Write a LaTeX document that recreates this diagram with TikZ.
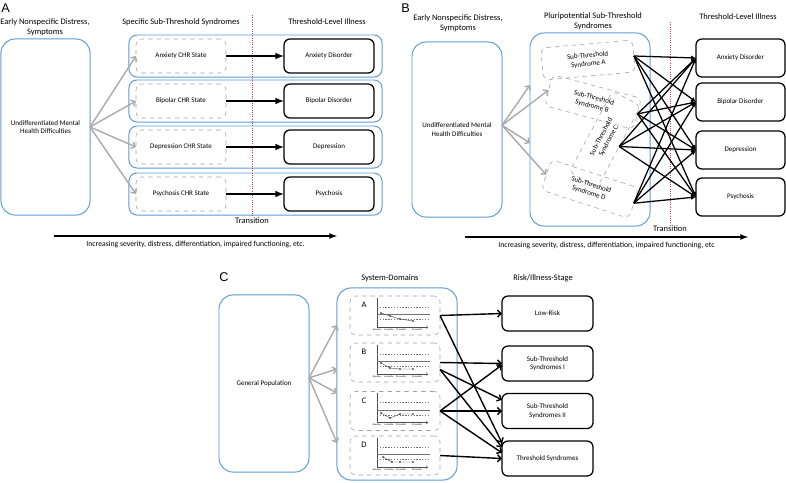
\documentclass[tikz,border=0pt]{standalone}
\usepackage{fontspec}
\setmainfont{Carlito}
\newfontfamily\panelfont{Liberation Sans}
\usetikzlibrary{arrows.meta,positioning}
\definecolor{panelblue}{RGB}{91,155,213}
\definecolor{arrowgray}{RGB}{170,170,170}
\definecolor{dashgray}{RGB}{160,160,160}
\definecolor{transred}{RGB}{205,70,70}
\newcommand{\nodefont}{\fontsize{5}{6}\selectfont}
\newcommand{\headfont}{\fontsize{6}{6.9}\selectfont}

\begin{document}
\begin{tikzpicture}[x=0.025cm,y=-0.025cm,every node/.style={outer sep=0pt,inner sep=1pt},
 panel/.style={font=\panelfont\fontsize{9}{10}\selectfont,anchor=west},
 head/.style={font=\headfont,align=center},
 blueframe/.style={draw=panelblue,line width=0.7pt,rounded corners=0.35cm,align=center,font=\nodefont},
 rowframe/.style={draw=panelblue,line width=0.7pt,rounded corners=0.2cm,minimum width=6.325cm,minimum height=1.05cm},
 chrbox/.style={draw=dashgray,dashed,rounded corners=0.15cm,minimum width=2.25cm,minimum height=0.85cm,font=\nodefont,align=center},
 illbox/.style={draw,line width=0.9pt,rounded corners=0.15cm,minimum width=2.25cm,minimum height=0.85cm,font=\nodefont,align=center},
 grayarrow/.style={draw=arrowgray,line width=1pt,-{Straight Barb[length=2.5pt,width=5pt]}},
 blackarrow/.style={line width=1.1pt,-latex},
 arrowB/.style={line width=0.9pt,-{Latex[length=3.5pt,width=3.5pt]}},
 arrowC/.style={line width=1pt,-{Straight Barb[length=2.5pt,width=5pt]}},
 transline/.style={transred,densely dotted,line width=0.6pt},
 chartline/.style={draw=black!70,line width=0.3pt},
 chartguide/.style={draw=black!55,line width=0.3pt},
 dataline/.style={draw=black!70,line width=0.3pt},
 ticklabel/.style={font=\fontsize{1.7}{2}\selectfont,inner sep=0pt},
 domletter/.style={font=\fontsize{6}{7}\selectfont},
 chartframe/.pic={
  \draw[chartline] (-18,-18) -- (-18,11.5);
  \draw[chartline,-{Straight Barb[length=1pt,width=2pt]}] (-18,11.5) -- (33,11.5);
  \draw[chartguide,dash pattern=on 1pt off 1pt] (-18,-8.5) -- (35,-8.5);
  \draw[chartguide] (-18,-1) -- (35,-1);
  \draw[chartguide,dash pattern=on 1pt off 1pt] (-18,4) -- (35,4);
  \node[ticklabel] (-t1) at (-18,14) {Baseline};
  \node[ticklabel] (-t2) at (-6,14) {6 months};
  \node[ticklabel] (-t3) at (6,14) {12 months};
  \node[ticklabel] (-t4) at (22,14) {24 months};
 }]

\useasboundingbox (0,0) rectangle (786,482);

%% panel A
\node[panel] (labA) at (0,8) {A};
\node[head] (earlyA) at (45,27) {Early Nonspecific Distress,\\Symptoms};
\node[head] (specA) at (181,22) {Specific Sub-Threshold Syndromes};
\node[head] (illhA) at (327,22) {Threshold-Level Illness};

\node[blueframe,minimum width=2.225cm,minimum height=4.4cm] (undA) at (45.5,127) {Undifferentiated Mental\\Health Difficulties};

\foreach \y/\chr/\ill [count=\i] in {56/Anxiety CHR State/Anxiety Disorder,101/Bipolar CHR State/Bipolar Disorder,147/Depression CHR State/Depression,194/Psychosis CHR State/Psychosis}{
 \node[rowframe] (rowA\i) at (255.5,\y) {};
 \node[chrbox] (chrA\i) at (181,\y) {\chr};
 \node[illbox] (illA\i) at (329,\y) {\ill};
}

\coordinate (topA) at (252,15);
\node[font=\headfont] (transA) at (252,221) {Transition};
\draw[transline] (topA) -- (transA.north);

\foreach \i in {1,...,4}{
 \draw[blackarrow] (chrA\i) -- (illA\i);
 \draw[grayarrow] (undA.east) -- (chrA\i.west);
}

\coordinate (sevA0) at (54,236);
\coordinate (sevA1) at (337,236);
\draw[blackarrow,line width=0.9pt] (sevA0) -- (sevA1) node[midway,below=2.5pt,font=\fontsize{5.5}{6}\selectfont] (sevtextA) {Increasing severity, distress, differentiation, impaired functioning, etc.};

%% panel B
\node[panel] (labB) at (400,8) {B};
\node[head] (earlyB) at (458,23) {Early Nonspecific Distress,\\Symptoms};
\node[head] (pluriB) at (593,21) {Pluripotential Sub-Threshold\\Syndromes};
\node[head] (illhB) at (738,17) {Threshold-Level Illness};

\node[blueframe,minimum width=2.25cm,minimum height=4.375cm] (undB) at (457,129.5) {Undifferentiated Mental\\Health Difficulties};
\node[blueframe,minimum width=3cm,minimum height=4.825cm] (pluri) at (590,129.5) {};

\node[chrbox,minimum width=2.3cm,minimum height=0.8cm,rotate=5] (subA) at (588,60) {Sub-Threshold\\Syndrome A};
\node[chrbox,minimum width=2.3cm,minimum height=0.8cm,rotate=-15] (subB) at (593,102) {Sub-Threshold\\Syndrome B};
\node[chrbox,minimum width=2.3cm,minimum height=0.8cm,rotate=62] (subC) at (605,139) {Sub-Threshold\\Syndrome C};
\node[chrbox,minimum width=2.3cm,minimum height=0.8cm,rotate=-18] (subD) at (590,189) {Sub-Threshold\\Syndrome D};

\foreach \y/\ill [count=\i] in {58/Anxiety Disorder,102/Bipolar Disorder,150/Depression,197/Psychosis}
 \node[illbox,minimum width=2.225cm,minimum height=0.95cm] (illB\i) at (740.5,\y) {\ill};

\coordinate (topB) at (670,22);
\node[font=\headfont] (transB) at (670,229) {Transition};
\draw[transline] (topB) -- (transB.north);

\coordinate (inB1) at (530,85);
\coordinate (inB3) at (530,143);
\draw[grayarrow] ([yshift=3pt]undB.east) -- (inB1);
\draw[grayarrow] ([yshift=3pt]undB.east) -- (subB.west);
\draw[grayarrow] ([yshift=3pt]undB.east) -- (inB3);
\draw[grayarrow] ([yshift=3pt]undB.east) -- (subD.west);

\foreach \s/\a in {subA/east,subB/east,subC/south,subD/east}
 \foreach \i in {1,...,4}
  \draw[arrowB] (\s.\a) -- (illB\i.west);

\coordinate (sevB0) at (465,237);
\coordinate (sevB1) at (748,237);
\draw[blackarrow,line width=0.9pt] (sevB0) -- (sevB1) node[midway,below=2.5pt,font=\fontsize{5.5}{6}\selectfont] (sevtextB) {Increasing severity, distress, differentiation, impaired functioning, etc};

%% panel C
\node[panel] (labC) at (218,277) {C};
\node[head] (sysC) at (390,278) {System-Domains};
\node[head] (riskC) at (543,278) {Risk/Illness-Stage};

\node[blueframe,minimum width=2.25cm,minimum height=4.425cm] (genpop) at (264,383.5) {General Population};
\node[blueframe,minimum width=3cm,minimum height=4.8cm] (domains) at (397,384) {};

\foreach \y/\d in {315.5/A,362.5/B,411/C,455.5/D}{
 \node[chrbox,minimum height=0.975cm] (dom\d) at (395,\y) {};
 \pic (chart\d) at (dom\d) {chartframe};
 \node[domletter] (let\d) at ([shift={(-31,-10.5)}]dom\d.center) {\d};
}
\draw[dataline,shift={(domA.center)}] plot[mark=*,mark size=0.4pt] coordinates {(-14,-2.5) (-5,0.5) (5,3.5) (18,5.5)};
\draw[dataline,shift={(domB.center)}] plot[mark=*,mark size=0.4pt] coordinates {(-14,0.5) (-5,5.5) (5,6.5) (18,6.5)};
\draw[dataline,shift={(domC.center)}] plot[mark=*,mark size=0.4pt] coordinates {(-14,2) (-5,7) (5,3) (18,3)};
\draw[dataline,shift={(domD.center)}] plot[mark=*,mark size=0.4pt] coordinates {(-12,1.5) (-3,6.5) (5,6.5) (18,6.5)};

\foreach \y/\r [count=\i] in {313.5/Low-Risk,363.5/{Sub-Threshold\\Syndromes I},411/{Sub-Threshold\\Syndromes II},458.5/Threshold Syndromes}
 \node[illbox,minimum width=2.275cm,minimum height=0.875cm] (risk\i) at (547.5,\y) {\r};

\foreach \y [count=\i] in {325,369,393,443}{
 \coordinate (inC\i) at (337,\y);
 \draw[grayarrow] ([yshift=4pt]genpop.east) -- (inC\i);
}

\draw[arrowC] (domA.east) -- (risk1.west);
\draw[arrowC] (domA.east) -- ([yshift=11pt]risk4.west);
\draw[arrowC] (domB.east) -- (risk2.west);
\draw[arrowC] ([yshift=-5pt]domB.east) -- ([yshift=8pt]risk3.west);
\draw[arrowC] ([yshift=-5pt]domB.east) -- ([yshift=8pt]risk4.west);
\draw[arrowC] (domC.east) -- ([yshift=-1pt]risk2.west);
\draw[arrowC] (domC.east) -- (risk3.west);
\draw[arrowC] (domC.east) -- ([yshift=4pt]risk4.west);
\draw[arrowC] (domD.east) -- (risk4.west);

\end{tikzpicture}
\end{document}
